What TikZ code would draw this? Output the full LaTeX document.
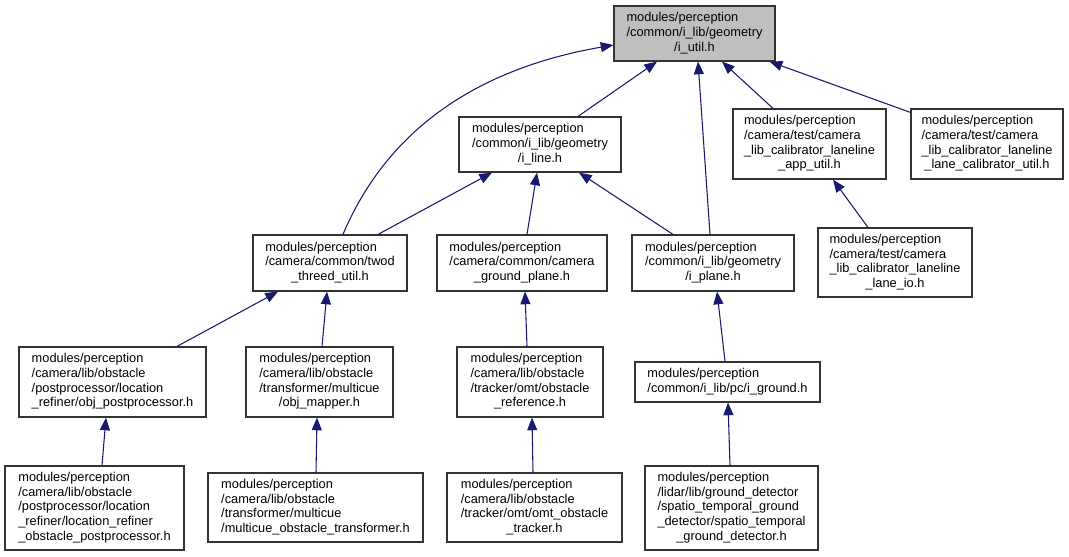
\documentclass[tikz,border=0pt]{standalone}
\usepackage{fontspec}
\setmainfont{Liberation Sans}
\usetikzlibrary{arrows.meta,calc}
\definecolor{edgecol}{HTML}{191970}
\definecolor{hilite}{HTML}{BFBFBF}
\newcommand\flines[2]{\begin{tabular}{@{}l@{}}#1\\\multicolumn{1}{@{}c@{}}{#2}\end{tabular}}
\tikzset{
  box/.style={draw=black!80, line width=0.9pt, fill=white, inner sep=0pt,
    font=\fontsize{9.6}{11}\selectfont},
  sz/.style 2 args={minimum width=#1*0.75pt, minimum height=#2*0.75pt},
  edge/.style={draw=edgecol, line width=0.8pt,
    -{Triangle[length=9.5pt,width=7.5pt,fill=edgecol]}}
}
\begin{document}
\begin{tikzpicture}[x=0.75pt,y=-0.75pt]
\useasboundingbox (0,0) rectangle (1069,556);
% nodes
\node[box,fill=hilite,sz={161}{55}] (util) at (694.5,33.5)
  {\flines{modules/perception\\/common/i\_lib/geometry}{/i\_util.h}};
\node[box,sz={162}{55}] (iline) at (540,144.5)
  {\flines{modules/perception\\/common/i\_lib/geometry}{/i\_line.h}};
\node[box,sz={153}{70}] (app) at (809.5,144)
  {\flines{modules/perception\\/camera/test/camera\\\_lib\_calibrator\_laneline}{\_app\_util.h}};
\node[box,sz={152}{70}] (lanecal) at (987,144)
  {\flines{modules/perception\\/camera/test/camera\\\_lib\_calibrator\_laneline}{\_lane\_calibrator\_util.h}};
\node[box,sz={154}{56}] (twod) at (330,263)
  {\flines{modules/perception\\/camera/common/twod}{\_threed\_util.h}};
\node[box,sz={170}{56}] (cgp) at (522,263)
  {\flines{modules/perception\\/camera/common/camera}{\_ground\_plane.h}};
\node[box,sz={162}{56}] (iplane) at (713,263)
  {\flines{modules/perception\\/common/i\_lib/geometry}{/i\_plane.h}};
\node[box,sz={154}{69}] (laneio) at (895,262.5)
  {\flines{modules/perception\\/camera/test/camera\\\_lib\_calibrator\_laneline}{\_lane\_io.h}};
\node[box,sz={187}{70}] (locref) at (112.5,382)
  {\flines{modules/perception\\/camera/lib/obstacle\\/postprocessor/location}{\_refiner/obj\_postprocessor.h}};
\node[box,sz={147}{70}] (objmap) at (319.5,382)
  {\flines{modules/perception\\/camera/lib/obstacle\\/transformer/multicue}{/obj\_mapper.h}};
\node[box,sz={146}{70}] (obsref) at (530,382)
  {\flines{modules/perception\\/camera/lib/obstacle\\/tracker/omt/obstacle}{\_reference.h}};
\node[box,sz={185}{40}] (iground) at (727.5,382)
  {\flines{modules/perception}{/common/i\_lib/pc/i\_ground.h}};
\node[box,sz={179}{84}] (locobs) at (94.5,508)
  {\flines{modules/perception\\/camera/lib/obstacle\\/postprocessor/location\\\_refiner/location\_refiner}{\_obstacle\_postprocessor.h}};
\node[box,sz={215}{69}] (multicue) at (315.5,507.5)
  {\flines{modules/perception\\/camera/lib/obstacle\\/transformer/multicue}{/multicue\_obstacle\_transformer.h}};
\node[box,sz={175}{69}] (omt) at (534.5,507.5)
  {\flines{modules/perception\\/camera/lib/obstacle\\/tracker/omt/omt\_obstacle}{\_tracker.h}};
\node[box,sz={173}{84}] (spatio) at (731.5,508)
  {\flines{modules/perception\\/lidar/lib/ground\_detector\\/spatio\_temporal\_ground\\\_detector/spatio\_temporal}{\_ground\_detector.h}};
% edges
\draw[edge] ($(twod.north)+(13,0)$) .. controls (385,135) and (470,70) .. ($(util.west)+(0,11.5)$);
\draw[edge] ($(iline.north)+(38,0)$) -- ($(util.south)+(-37.5,0)$);
\draw[edge] ($(iplane.north)+(-3,0)$) -- ($(util.south)+(3.5,0)$);
\draw[edge] ($(app.north)+(-36.5,0)$) -- ($(util.south)+(27.5,0)$);
\draw[edge] ($(lanecal.north west)+(0,4)$) -- ($(util.south east)+(-6,0)$);
\draw[edge] ($(twod.north)+(48,0)$) -- ($(iline.south)+(-48,0)$);
\draw[edge] ($(cgp.north)+(5,0)$) -- ($(iline.south)+(-3,0)$);
\draw[edge] ($(iplane.north)+(-40,0)$) -- ($(iline.south)+(39,0)$);
\draw[edge] ($(laneio.north)+(-27,0)$) -- ($(app.south)+(23.5,0)$);
\draw[edge] ($(locref.north)+(64.5,0)$) -- ($(twod.south)+(-52,0)$);
\draw[edge] ($(objmap.north)+(2.5,0)$) -- ($(twod.south)+(-3,0)$);
\draw[edge] ($(obsref.north)+(-3,0)$) -- ($(cgp.south)+(3,0)$);
\draw[edge] ($(iground.north)+(-2.5,0)$) -- ($(iplane.south)+(4,0)$);
\draw[edge] ($(locobs.north)+(7.5,0)$) -- ($(locref.south)+(-6.5,0)$);
\draw[edge] ($(multicue.north)+(0.5,0)$) -- ($(objmap.south)+(-2.5,0)$);
\draw[edge] ($(omt.north)+(-1.5,0)$) -- ($(obsref.south)+(2,0)$);
\draw[edge] ($(spatio.north)+(-1.5,0)$) -- ($(iground.south)+(0.5,0)$);
\end{tikzpicture}
\end{document}
